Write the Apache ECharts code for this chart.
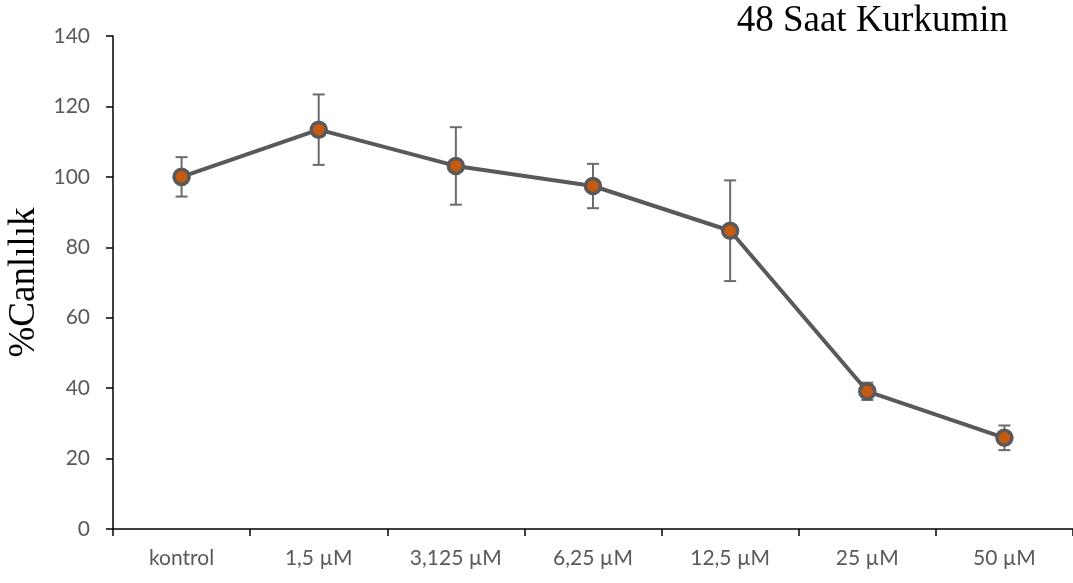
<!DOCTYPE html>
<html>
<head>
<meta charset="utf-8">
<script src="https://cdn.jsdelivr.net/npm/echarts@6/dist/echarts.min.js"></script>
<style>
html,body{margin:0;padding:0;background:#fff;}
#chart{width:1073px;height:583px;}
</style>
</head>
<body>
<div id="chart"></div>
<script>
const categories = ['kontrol', '1,5 µM', '3,125 µM', '6,25 µM', '12,5 µM', '25 µM', '50 µM'];
const means = [100.0, 113.4, 103.1, 97.4, 84.7, 39.1, 25.9];
const errors = [5.6, 10.0, 11.0, 6.3, 14.3, 2.45, 3.5];
const yTicks = [0, 20, 40, 60, 80, 100, 120, 140];
const titleText = '48 Saat Kurkumin';
const yName = '%Canlılık';

const errData = means.map((m, i) => [i, m - errors[i], m + errors[i]]);

const chart = echarts.init(document.getElementById('chart'), null, {renderer: 'canvas'});
chart.setOption({
  animation: false,
  backgroundColor: '#ffffff',
  title: {
    text: titleText,
    right: 60,
    top: -2,
    textStyle: {fontFamily: 'Liberation Serif', fontSize: 37, fontWeight: 'normal', color: '#000'}
  },
  grid: {left: 113, right: 0, top: 36, bottom: 54, containLabel: false, outerBoundsMode: 'none'},
  xAxis: {
    type: 'category',
    data: categories,
    boundaryGap: true,
    axisLine: {lineStyle: {color: '#000', width: 1.5}},
    axisTick: {show: true, length: 7, lineStyle: {color: '#000', width: 1.5}},
    axisLabel: {color: '#595959', fontFamily: 'Lato', fontSize: 21, margin: 19},
    splitLine: {show: false}
  },
  yAxis: {
    type: 'value',
    min: yTicks[0],
    max: yTicks[yTicks.length - 1],
    interval: 20,
    name: yName,
    nameLocation: 'middle',
    nameGap: 50,
    nameTextStyle: {fontFamily: 'Liberation Serif', fontSize: 37, color: '#000'},
    axisLine: {show: true, lineStyle: {color: '#000', width: 1.5}},
    axisTick: {show: true, length: 7, lineStyle: {color: '#000', width: 1.5}},
    axisLabel: {color: '#595959', fontFamily: 'Lato', fontSize: 21, margin: 23},
    splitLine: {show: false}
  },
  series: [
    {
      type: 'custom',
      z: 1,
      data: errData,
      renderItem: function (params, api) {
        const x = api.value(0);
        const lo = api.coord([x, api.value(1)]);
        const hi = api.coord([x, api.value(2)]);
        const hw = 6;
        const style = {stroke: '#6b6b6b', lineWidth: 2, fill: null};
        return {
          type: 'group',
          children: [
            {type: 'line', shape: {x1: lo[0], y1: lo[1], x2: hi[0], y2: hi[1]}, style: style},
            {type: 'line', shape: {x1: hi[0] - hw, y1: hi[1], x2: hi[0] + hw, y2: hi[1]}, style: style},
            {type: 'line', shape: {x1: lo[0] - hw, y1: lo[1], x2: lo[0] + hw, y2: lo[1]}, style: style}
          ]
        };
      }
    },
    {
      type: 'line',
      z: 5,
      data: means,
      symbol: 'circle',
      symbolSize: 15,
      lineStyle: {color: '#595959', width: 4},
      itemStyle: {color: '#C55A11', borderColor: '#595959', borderWidth: 3.5}
    }
  ]
});
</script>
</body>
</html>
